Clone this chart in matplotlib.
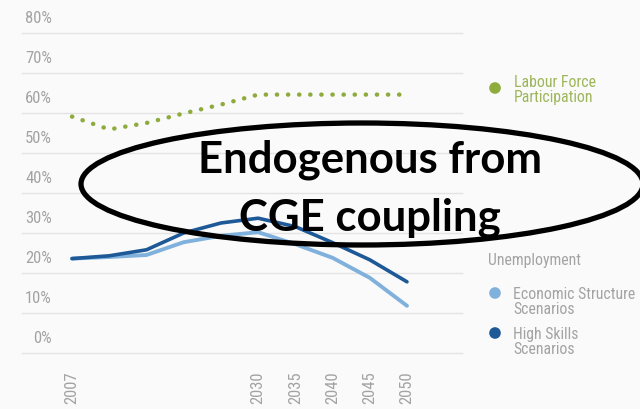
import numpy as np
import matplotlib.pyplot as plt
import matplotlib.font_manager as fm
from matplotlib.patches import Ellipse

# periods are equally spaced in the source chart, only some are labelled
periods = ['2007', '2010', '2015', '2020', '2025', '2030', '2035', '2040', '2045', '2050']
shown_years = ['2007', '2030', '2035', '2040', '2045', '2050']

labour_force = [59.1, 55.9, 57.5, 59.9, 62.1, 64.6, 64.6, 64.6, 64.6, 64.6]
unemp_econ_structure = [23.6, 24.0, 24.5, 27.7, 29.3, 30.2, 27.2, 23.8, 18.8, 11.8]
unemp_high_skills = [23.6, 24.3, 25.8, 30.0, 32.5, 33.7, 31.6, 27.6, 23.3, 17.8]

y_grid = [0, 10, 20, 30, 40, 50, 60, 70, 80]

GREEN = '#8eab3d'
LIGHT = '#7fb1dc'
DARK = '#1e5997'
GRAY = '#a3a3a3'
BG = '#fafafa'

# pick a condensed face if one is around, the original uses a narrow DIN-like font
installed = {f.name for f in fm.fontManager.ttflist}
narrow_name = next((n for n in ['Roboto Condensed', 'DejaVu Sans Condensed',
                                'Liberation Sans Narrow', 'Open Sans Condensed']
                    if n in installed), None)
if narrow_name:
    NARROW = dict(family=[narrow_name, 'DejaVu Sans'])
    ylab_size, xlab_size, legend_size = 12, 12, 11.3
else:
    NARROW = dict(family=['Roboto', 'DejaVu Sans'])
    ylab_size, xlab_size, legend_size = 10.5, 10.5, 10

fig = plt.figure(figsize=(6.4, 4.09), dpi=100, facecolor=BG)
W, H = 640, 409

ax = fig.add_axes([22 / W, (H - 353) / H, 440 / W, 340 / H])
ax.set_facecolor(BG)
x = np.arange(len(periods))
step = 37.2
ax.set_xlim(-50 / step, 9 + 55 / step)
ax.set_ylim(0, 85)

for v in y_grid:
    ax.axhline(v, color='#e3e3e3', lw=1, zorder=0, clip_on=False)
    ax.text(30 / 440, v + 3.6, f'{v}%', transform=ax.get_yaxis_transform(),
            ha='right', va='center', fontsize=ylab_size, color=GRAY, **NARROW)

ax.plot(x, labour_force, color=GREEN, lw=3.2, linestyle=(0, (0.05, 2.45)),
        dash_capstyle='round', zorder=3)
ax.plot(x, unemp_econ_structure, color=LIGHT, lw=2.8, solid_capstyle='round', zorder=3)
ax.plot(x, unemp_high_skills, color=DARK, lw=2.6, solid_capstyle='round', zorder=4)

tick_pos = [periods.index(p) for p in shown_years]
ax.set_xticks(tick_pos)
ax.set_xticklabels(shown_years, rotation=90, fontsize=xlab_size, color=GRAY, **NARROW)
ax.tick_params(axis='x', length=0, pad=13)
ax.set_yticks([])
for s in ax.spines.values():
    s.set_visible(False)

# overlay in pixel coordinates for legend and annotation
ov = fig.add_axes([0, 0, 1, 1], facecolor='none')
ov.set_xlim(0, W)
ov.set_ylim(H, 0)
ov.axis('off')

ov.scatter([495], [88], s=70, color=GREEN, edgecolors='none')
ov.text(514, 90, 'Labour Force\nParticipation', va='center', ha='left',
        fontsize=legend_size, color='#9db65a', linespacing=1.0, **NARROW)

ov.text(488, 260, 'Unemployment', va='center', ha='left', fontsize=legend_size,
        color=GRAY, **NARROW)
ov.scatter([495], [293], s=70, color=LIGHT, edgecolors='none')
ov.text(513, 302, 'Economic Structure\nScenarios', va='center', ha='left',
        fontsize=legend_size, color=GRAY, linespacing=1.0, **NARROW)
ov.scatter([495], [333], s=70, color=DARK, edgecolors='none')
ov.text(513, 342, 'High Skills\nScenarios', va='center', ha='left',
        fontsize=legend_size, color=GRAY, linespacing=1.0, **NARROW)

ov.add_patch(Ellipse((362, 184), 562, 122, fill=False, edgecolor='black', lw=3.8,
                     clip_on=False, zorder=5))
ov.text(370, 172, 'Endogenous from', ha='center', va='baseline', fontsize=31.5,
        fontweight='bold', family=['Lato', 'DejaVu Sans'], color='black', zorder=6)
ov.text(370, 230, 'CGE coupling', ha='center', va='baseline', fontsize=31.5,
        fontweight='bold', family=['Lato', 'DejaVu Sans'], color='black', zorder=6)

fig.savefig('out.png', dpi=100, facecolor=BG)
